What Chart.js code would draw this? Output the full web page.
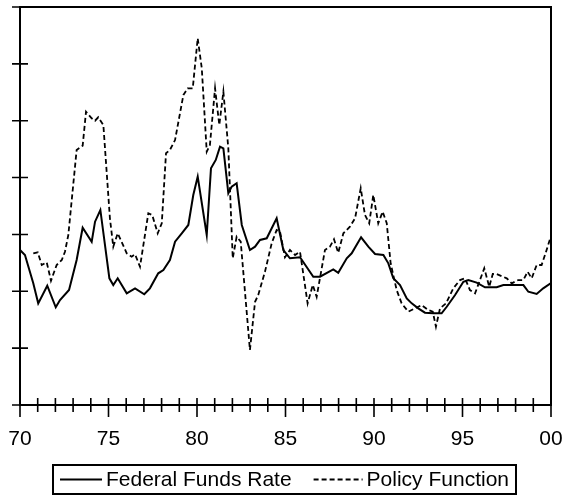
<!DOCTYPE html>
<html><head><meta charset="utf-8">
<script src="https://cdn.jsdelivr.net/npm/chart.js@4.4.0/dist/chart.umd.min.js"></script>
<style>html,body{margin:0;padding:0;background:#fff}</style>
</head><body>
<canvas id="c" width="563" height="498"></canvas>
<script>
const seriesNames = ['Federal Funds Rate', 'Policy Function'];

const fedYears = [1970.00,1970.28,1970.75,1971.03,1971.54,1972.02,1972.26,1972.77,1973.20,1973.54,1974.05,1974.24,1974.54,1975.05,1975.27,1975.52,1976.03,1976.50,1977.02,1977.34,1977.81,1978.10,1978.47,1978.76,1979.14,1979.51,1979.79,1980.04,1980.55,1980.79,1981.06,1981.30,1981.49,1981.77,1981.96,1982.24,1982.53,1982.99,1983.28,1983.56,1983.94,1984.50,1984.88,1985.25,1985.82,1986.57,1986.95,1987.70,1987.98,1988.46,1988.74,1989.27,1989.68,1990.06,1990.53,1990.81,1991.09,1991.47,1991.85,1992.13,1992.50,1992.88,1993.35,1993.82,1994.11,1994.58,1995.05,1995.33,1995.80,1996.27,1996.93,1997.31,1998.44,1998.72,1999.19,1999.56,1999.98];
const fedRate = [8.63,8.19,5.70,3.94,5.49,3.59,4.23,5.11,7.75,10.59,9.36,11.12,12.15,6.14,5.55,6.14,4.82,5.26,4.74,5.26,6.58,6.87,7.75,9.36,10.10,10.83,13.47,15.08,9.95,15.82,16.55,17.72,17.57,13.62,14.20,14.50,10.83,8.63,8.92,9.51,9.66,11.42,8.63,7.90,7.99,6.28,6.28,6.93,6.63,7.90,8.34,9.75,8.92,8.28,8.19,7.46,6.14,5.55,4.38,3.94,3.50,3.12,3.06,3.06,3.64,4.67,5.84,5.99,5.76,5.35,5.35,5.55,5.55,4.96,4.76,5.26,5.70];

const policyYears = [1970.75,1971.00,1971.23,1971.51,1971.75,1972.07,1972.36,1972.54,1972.73,1973.20,1973.54,1973.73,1974.05,1974.24,1974.42,1974.71,1975.08,1975.27,1975.52,1976.03,1976.31,1976.50,1976.78,1977.25,1977.47,1977.78,1978.01,1978.25,1978.47,1978.76,1979.23,1979.47,1979.76,1979.89,1980.04,1980.27,1980.55,1980.73,1981.02,1981.26,1981.49,1981.77,1982.02,1982.24,1982.47,1982.99,1983.28,1983.46,1983.84,1984.22,1984.50,1984.69,1984.97,1985.25,1985.54,1985.82,1986.25,1986.54,1986.76,1987.23,1987.51,1987.74,1987.98,1988.27,1988.64,1988.93,1989.25,1989.49,1989.73,1989.96,1990.24,1990.49,1990.72,1990.94,1991.28,1991.56,1991.94,1992.32,1992.69,1993.07,1993.32,1993.50,1993.73,1994.07,1994.48,1994.86,1995.14,1995.42,1995.71,1996.23,1996.51,1996.71,1996.93,1997.50,1997.78,1998.15,1998.44,1998.68,1998.91,1999.19,1999.47,1999.72,1999.94];
const policyRate = [8.34,8.43,7.31,7.55,5.93,7.31,7.75,8.48,9.95,17.43,17.80,20.79,20.21,20.00,20.30,19.62,11.42,8.92,10.10,8.34,8.04,8.25,7.16,11.86,11.71,10.10,10.98,17.14,17.43,18.30,22.26,22.85,22.85,24.90,27.25,24.61,17.28,17.87,22.85,19.62,22.55,17.57,7.90,9.80,9.36,-0.16,4.08,4.67,6.72,9.22,10.39,10.24,7.99,8.63,8.19,8.48,3.94,5.55,4.52,8.63,8.92,9.57,8.39,10.10,10.68,11.42,14.06,11.71,10.98,13.47,10.98,12.00,10.98,7.46,5.11,3.94,3.21,3.50,3.79,3.35,3.21,1.89,3.50,3.94,5.26,5.99,6.14,5.11,4.82,7.02,5.40,6.52,6.52,6.14,5.70,5.99,5.99,6.72,6.14,7.31,7.31,8.48,9.57];

const xTickLabels = {1970: '70', 1975: '75', 1980: '80', 1985: '85', 1990: '90', 1995: '95', 2000: '00'};
const yTickValues = [-5, 0, 5, 10, 15, 20, 25, 30];

const FONT = '"Liberation Sans", Arial, Helvetica, sans-serif';
const FONT_SIZE = 21;

const framePlugin = {
  id: 'frame',
  afterDraw(chart) {
    const {ctx, chartArea: a, scales: {x, y}} = chart;
    ctx.save();
    ctx.strokeStyle = '#000';
    ctx.lineWidth = 2;
    ctx.strokeRect(a.left, a.top, a.right - a.left, a.bottom - a.top);
    ctx.lineWidth = 1.6;
    ctx.beginPath();
    yTickValues.forEach(v => {
      const py = y.getPixelForValue(v);
      ctx.moveTo(a.left - 8, py); ctx.lineTo(a.left + 8, py);
    });
    x.ticks.forEach(t => {
      const px = x.getPixelForValue(t.value);
      const major = (t.value % 5 === 0);
      ctx.moveTo(px, a.bottom - 7); ctx.lineTo(px, a.bottom + (major ? 12 : 7));
    });
    ctx.stroke();

    // legend
    ctx.font = FONT_SIZE + 'px ' + FONT;
    ctx.fillStyle = '#000';
    ctx.textBaseline = 'middle';
    ctx.textAlign = 'left';
    const w1 = ctx.measureText(seriesNames[0]).width;
    const w2 = ctx.measureText(seriesNames[1]).width;
    const pad = 7, sample1 = 42, sample2 = 49, gap = 4, itemGap = 22;
    const total = pad + sample1 + gap + w1 + itemGap + sample2 + gap + w2 + pad;
    const cx = 284.5, top = 465, bottom = 494, my = (top + bottom) / 2;
    const left = cx - total / 2;
    ctx.lineWidth = 2;
    ctx.strokeRect(left, top, total, bottom - top);
    let xx = left + pad;
    ctx.beginPath(); ctx.moveTo(xx, my); ctx.lineTo(xx + sample1, my); ctx.lineWidth = 2; ctx.stroke();
    xx += sample1 + gap;
    ctx.fillText(seriesNames[0], xx, my + 1);
    xx += w1 + itemGap;
    ctx.save();
    ctx.setLineDash([5, 3]); ctx.lineWidth = 1.8;
    ctx.beginPath(); ctx.moveTo(xx, my); ctx.lineTo(xx + sample2, my); ctx.stroke();
    ctx.restore();
    xx += sample2 + gap;
    ctx.fillText(seriesNames[1], xx, my + 1);
    ctx.restore();
  }
};

new Chart(document.getElementById('c'), {
  type: 'line',
  data: {
    datasets: [
      {
        label: seriesNames[0],
        data: fedYears.map((t, i) => ({x: t, y: fedRate[i]})),
        borderColor: '#000', borderWidth: 2, pointRadius: 0, tension: 0, fill: false
      },
      {
        label: seriesNames[1],
        data: policyYears.map((t, i) => ({x: t, y: policyRate[i]})),
        borderColor: '#000', borderWidth: 1.8, borderDash: [5, 3], pointRadius: 0, tension: 0, fill: false
      }
    ]
  },
  options: {
    responsive: false,
    animation: false,
    devicePixelRatio: 1,
    layout: {padding: {left: 20, right: 12, top: 7, bottom: 46}},
    plugins: {legend: {display: false}, tooltip: {enabled: false}},
    scales: {
      x: {
        type: 'linear', min: 1970, max: 2000,
        grid: {display: false, drawTicks: false},
        border: {display: false},
        afterFit(scale) { scale.height = 47; scale.paddingLeft = 0; scale.paddingRight = 0; },
        ticks: {
          stepSize: 1, autoSkip: false, maxRotation: 0, minRotation: 0,
          padding: 22, color: '#000', font: {family: FONT, size: FONT_SIZE},
          callback: v => (xTickLabels[v] !== undefined ? xTickLabels[v] : '')
        }
      },
      y: {display: false, min: -5, max: 30}
    }
  },
  plugins: [framePlugin]
});
</script>
</body></html>
